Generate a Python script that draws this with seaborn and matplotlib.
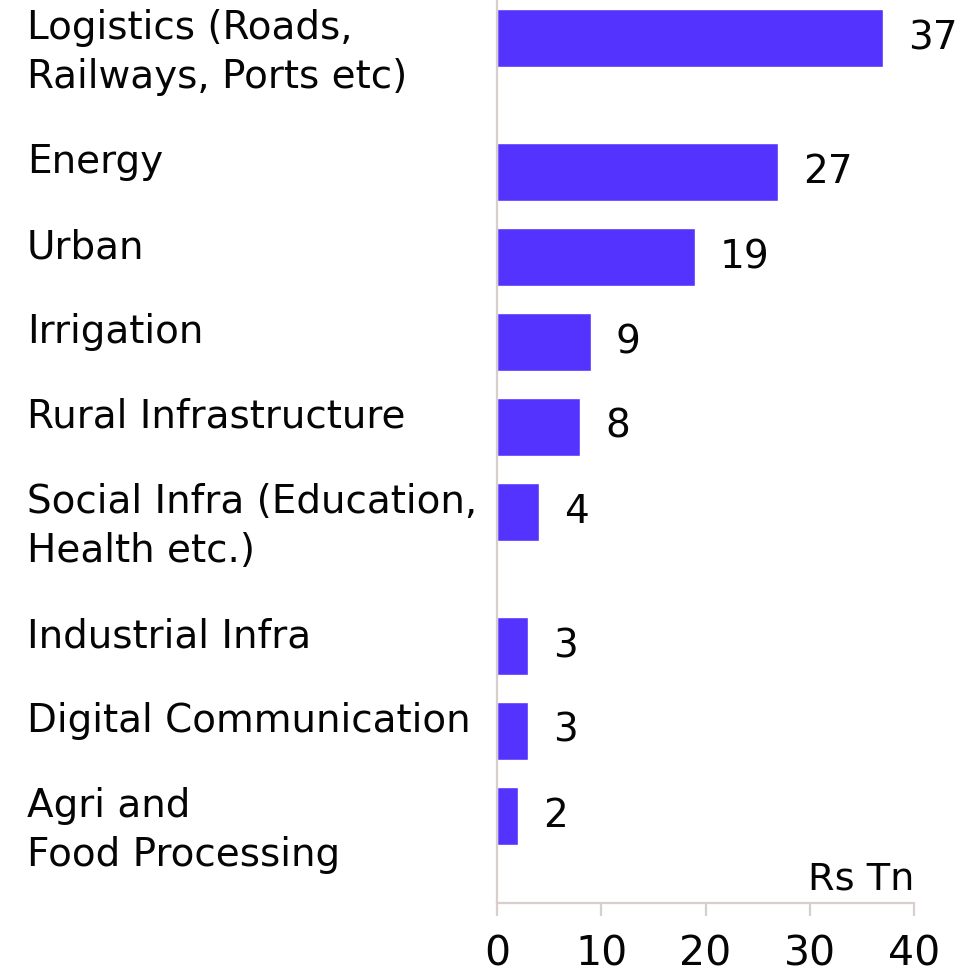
import matplotlib
matplotlib.use("Agg")
import matplotlib.pyplot as plt
import matplotlib.transforms as mtransforms
import numpy as np
import pandas as pd
import seaborn as sns

# Infrastructure investment by sector (Rs Tn)
sectors = [
    "Logistics (Roads,\nRailways, Ports etc)",
    "Energy",
    "Urban",
    "Irrigation",
    "Rural Infrastructure",
    "Social Infra (Education,\nHealth etc.)",
    "Industrial Infra",
    "Digital Communication",
    "Agri and\nFood Processing",
]
investment = [37, 27, 19, 9, 8, 4, 3, 3, 2]
value_labels = ["37", "27", "19", "9", "8", "4", "3", "3", "2"]
x_ticks = [0, 10, 20, 30, 40]
unit_label = "Rs Tn"

BAR_COLOR = "#5533ff"
AXIS_COLOR = "#d8cfcc"
TEXT_COLOR = "#050505"
FONT_SIZE = 28

# Rows sit one unit apart, with extra room after labels that wrap onto a second line
EXTRA_PER_LINE = 0.58
row_pos = []
cursor = 0.0
for name in sectors:
    row_pos.append(cursor)
    cursor += 1.0 + EXTRA_PER_LINE * name.count("\n")

df = pd.DataFrame({"sector": sectors, "investment": investment, "row": row_pos})

sns.set_theme(style="white")
plt.rcParams["font.family"] = ["DejaVu Sans"]

fig = plt.figure(figsize=(9.65, 9.73), dpi=100)
ax = fig.add_axes([497 / 965, 1 - 903 / 973, (914 - 497) / 965, 903 / 973])

BAR_WIDTH = 0.683
sns.barplot(
    data=df, x="investment", y="row", orient="h", native_scale=True,
    width=BAR_WIDTH, color=BAR_COLOR, saturation=1, ax=ax,
)

ax.set_xlim(0, 40)
ax.set_ylim(10.187, -0.449)
ax.set_xticks(x_ticks)
ax.set_xticklabels([str(t) for t in x_ticks], fontsize=29.5, color=TEXT_COLOR)
ax.set_yticks([])
ax.set_xlabel("")
ax.set_ylabel("")

for side in ("top", "right"):
    ax.spines[side].set_visible(False)
for side in ("left", "bottom"):
    ax.spines[side].set_color(AXIS_COLOR)
    ax.spines[side].set_linewidth(1.6)
ax.tick_params(axis="x", direction="out", length=9, width=1.6,
               color=AXIS_COLOR, pad=14, bottom=True)

# Value labels at the end of each bar
ax.bar_label(ax.containers[0], labels=value_labels, padding=18,
             fontsize=FONT_SIZE, color=TEXT_COLOR)

# Sector names, left aligned at the figure edge and top aligned with their bar
label_tf = mtransforms.blended_transform_factory(fig.transFigure, ax.transData)
for name, pos in zip(sectors, row_pos):
    ax.text(27 / 965, pos - BAR_WIDTH / 2, name, transform=label_tf,
            ha="left", va="top", fontsize=FONT_SIZE, color=TEXT_COLOR,
            linespacing=1.36, clip_on=False)

# Unit label above the x axis
ax.text(1.0, 14 / 903, unit_label, transform=ax.transAxes, ha="right",
        va="baseline", fontsize=27.5, color=TEXT_COLOR)

fig.savefig("out.png", dpi=100)
